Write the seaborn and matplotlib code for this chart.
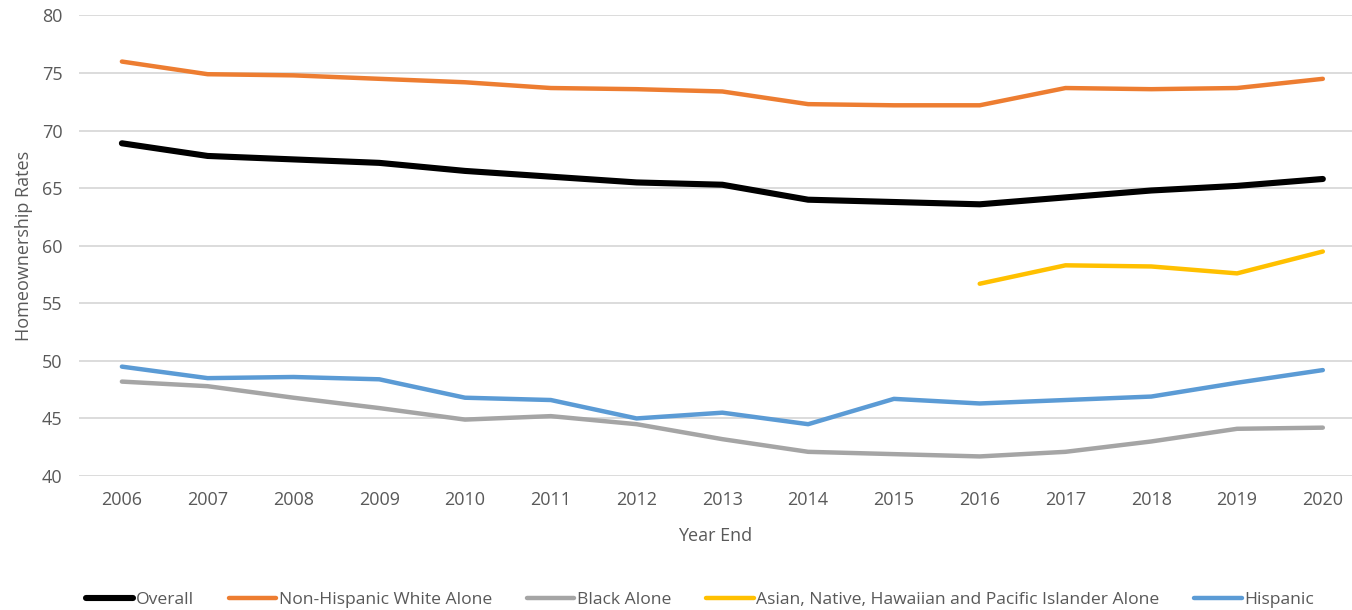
import matplotlib
matplotlib.use("Agg")
import matplotlib.pyplot as plt
import seaborn as sns
import numpy as np
import pandas as pd

years = list(range(2006, 2021))

overall = [68.9, 67.8, 67.5, 67.2, 66.5, 66.0, 65.5, 65.3, 64.0, 63.8, 63.6, 64.2, 64.8, 65.2, 65.8]
white = [76.0, 74.9, 74.8, 74.5, 74.2, 73.7, 73.6, 73.4, 72.3, 72.2, 72.2, 73.7, 73.6, 73.7, 74.5]
black = [48.2, 47.8, 46.8, 45.9, 44.9, 45.2, 44.5, 43.2, 42.1, 41.9, 41.7, 42.1, 43.0, 44.1, 44.2]
asian = [np.nan] * 10 + [56.7, 58.3, 58.2, 57.6, 59.5]
hispanic = [49.5, 48.5, 48.6, 48.4, 46.8, 46.6, 45.0, 45.5, 44.5, 46.7, 46.3, 46.6, 46.9, 48.1, 49.2]

series_names = [
    "Overall",
    "Non-Hispanic White Alone",
    "Black Alone",
    "Asian, Native, Hawaiian and Pacific Islander Alone",
    "Hispanic",
]
series_values = [overall, white, black, asian, hispanic]
series_colors = ["#000000", "#ED7D31", "#A5A5A5", "#FFC000", "#5B9BD5"]
series_widths = [4.4, 3.2, 3.2, 3.2, 3.2]

y_ticks = [40, 45, 50, 55, 60, 65, 70, 75, 80]

sns.set_theme(style="white")
plt.rcParams["font.family"] = ["Open Sans", "DejaVu Sans"]

fig = plt.figure(figsize=(13.52, 6.10), dpi=100)
ax = fig.add_axes([79 / 1352, 1 - 476 / 610, 1 - 79 / 1352, (476 - 15.5) / 610])

for name, vals, col, lw in zip(series_names, series_values, series_colors, series_widths):
    df = pd.DataFrame({"Year": years, "Rate": vals}).dropna()
    sns.lineplot(data=df, x="Year", y="Rate", color=col, linewidth=lw,
                 label=name, ax=ax, solid_capstyle="round", solid_joinstyle="round")

ax.set_ylim(40, 80)
ax.set_yticks(y_ticks)
ax.set_xlim(2005.5, 2020.34)
ax.set_xticks(years)
ax.set_xticklabels([str(y) for y in years])
ax.yaxis.grid(True, color="#D9D9D9", linewidth=1.3)
ax.set_axisbelow(True)
for s in ax.spines.values():
    s.set_visible(False)
ax.tick_params(axis="both", length=0, labelsize=13, labelcolor="#595959")
ax.tick_params(axis="x", pad=11)
ax.tick_params(axis="y", pad=12)
ax.set_xlabel("Year End", fontsize=13, color="#595959", labelpad=13)
ax.set_ylabel("Homeownership Rates", fontsize=13, color="#595959", labelpad=6)

handles, labels = ax.get_legend_handles_labels()
ax.legend(handles, labels, loc="center", bbox_to_anchor=(700 / 1352, 1 - 600 / 610),
          bbox_transform=fig.transFigure,
          ncol=5, frameon=False, fontsize=12.6, handlelength=2.7, handletextpad=0.15,
          columnspacing=2.0, labelcolor="#595959", borderpad=0, borderaxespad=0)

fig.savefig("out.png", dpi=100, facecolor="white")
